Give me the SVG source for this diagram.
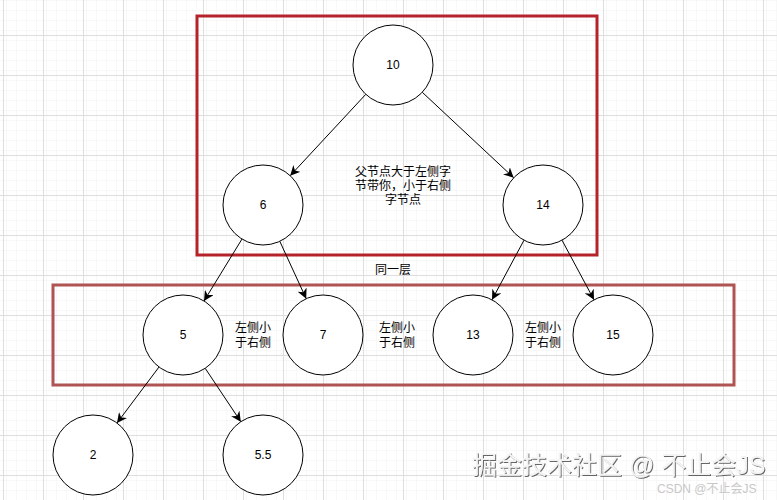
<svg xmlns="http://www.w3.org/2000/svg" width="777" height="500" viewBox="0 0 777 500">
<defs>
<pattern id="minor" patternUnits="userSpaceOnUse" x="3" y="5" width="10" height="10">
<path d="M0 0V10M0 0H10" fill="none" stroke="#f2f2f2" stroke-width="1"/>
</pattern>
<pattern id="major" patternUnits="userSpaceOnUse" x="3" y="-5" width="40" height="40">
<rect width="40" height="40" fill="url(#minor)"/>
<path d="M0.5 0V40M0 0.5H40" fill="none" stroke="#dedede" stroke-width="1"/>
</pattern>
<marker id="arr" viewBox="0 0 10 10" refX="10" refY="5" markerWidth="10" markerHeight="10" markerUnits="userSpaceOnUse" orient="auto">
<path d="M0 0L10 5L0 10L3 5Z" fill="#000"/>
</marker>
<filter id="sh" x="-5%" y="-20%" width="110%" height="140%">
<feDropShadow dx="1" dy="1" stdDeviation="0.6" flood-color="#555" flood-opacity="0.9"/>
</filter>
</defs>
<style>
.n circle{fill:#fff;stroke:#000;stroke-width:1}
.t{font-family:"Liberation Sans","Noto Sans CJK SC",sans-serif;font-size:12px;fill:#000;text-anchor:middle}
.e line{stroke:#000;stroke-width:1;marker-end:url(#arr)}
</style>
<rect width="777" height="500" fill="#fff"/>
<rect width="777" height="500" fill="url(#major)"/>

<g id="box-top"><rect x="197" y="16" width="400" height="239" fill="none" stroke="#b5222a" stroke-width="3"/></g>
<g id="box-level"><rect x="53" y="285" width="681" height="100" fill="none" stroke="#b05353" stroke-width="3"/></g>

<g id="connectors" class="e">
<line x1="365.8" y1="94.3" x2="290.2" y2="175.7"/>
<line x1="422.3" y1="92.3" x2="513.7" y2="177.7"/>
<line x1="242" y1="239" x2="204" y2="301"/>
<line x1="279.8" y1="241.3" x2="306.2" y2="298.7"/>
<line x1="524" y1="240.2" x2="492" y2="299.8"/>
<line x1="562" y1="240.2" x2="594" y2="299.8"/>
<line x1="159" y1="367" x2="117" y2="423"/>
<line x1="205.2" y1="368.3" x2="240.8" y2="421.7"/>
</g>

<g id="n10" class="n"><circle cx="393" cy="65" r="40"/><text class="t" x="393" y="69">10</text></g>
<g id="n6" class="n"><circle cx="263" cy="205" r="40"/><text class="t" x="263" y="209">6</text></g>
<g id="n14" class="n"><circle cx="543" cy="205" r="40"/><text class="t" x="543" y="209">14</text></g>
<g id="n5" class="n"><circle cx="183" cy="335" r="40"/><text class="t" x="183" y="339">5</text></g>
<g id="n7" class="n"><circle cx="323" cy="335" r="40"/><text class="t" x="323" y="339">7</text></g>
<g id="n13" class="n"><circle cx="473" cy="335" r="40"/><text class="t" x="473" y="339">13</text></g>
<g id="n15" class="n"><circle cx="613" cy="335" r="40"/><text class="t" x="613" y="339">15</text></g>
<g id="n2" class="n"><circle cx="93" cy="455" r="40"/><text class="t" x="93" y="459">2</text></g>
<g id="n55" class="n"><circle cx="263" cy="455" r="40"/><text class="t" x="263" y="459">5.5</text></g>

<g id="label-rule">
<text class="t" x="403" y="176">父节点大于左侧字</text>
<text class="t" x="403" y="190">节带你，小于右侧</text>
<text class="t" x="403" y="204">字节点</text>
</g>
<g id="label-level"><text class="t" x="393" y="274">同一层</text></g>
<g id="label-a"><text class="t" x="253" y="332">左侧小</text><text class="t" x="253" y="347">于右侧</text></g>
<g id="label-b"><text class="t" x="397" y="332">左侧小</text><text class="t" x="397" y="347">于右侧</text></g>
<g id="label-c"><text class="t" x="543" y="332">左侧小</text><text class="t" x="543" y="347">于右侧</text></g>

<g id="watermark">
<text x="472" y="474" font-family="'Liberation Sans','Noto Sans CJK SC',sans-serif" font-size="25" fill="#f4f4f4" filter="url(#sh)">掘金技术社区 @ 不止会JS</text>
<text x="657" y="493" font-family="'Liberation Sans','Noto Sans CJK SC',sans-serif" font-size="12" fill="#c8c8c8">CSDN @不止会JS</text>
</g>
</svg>
